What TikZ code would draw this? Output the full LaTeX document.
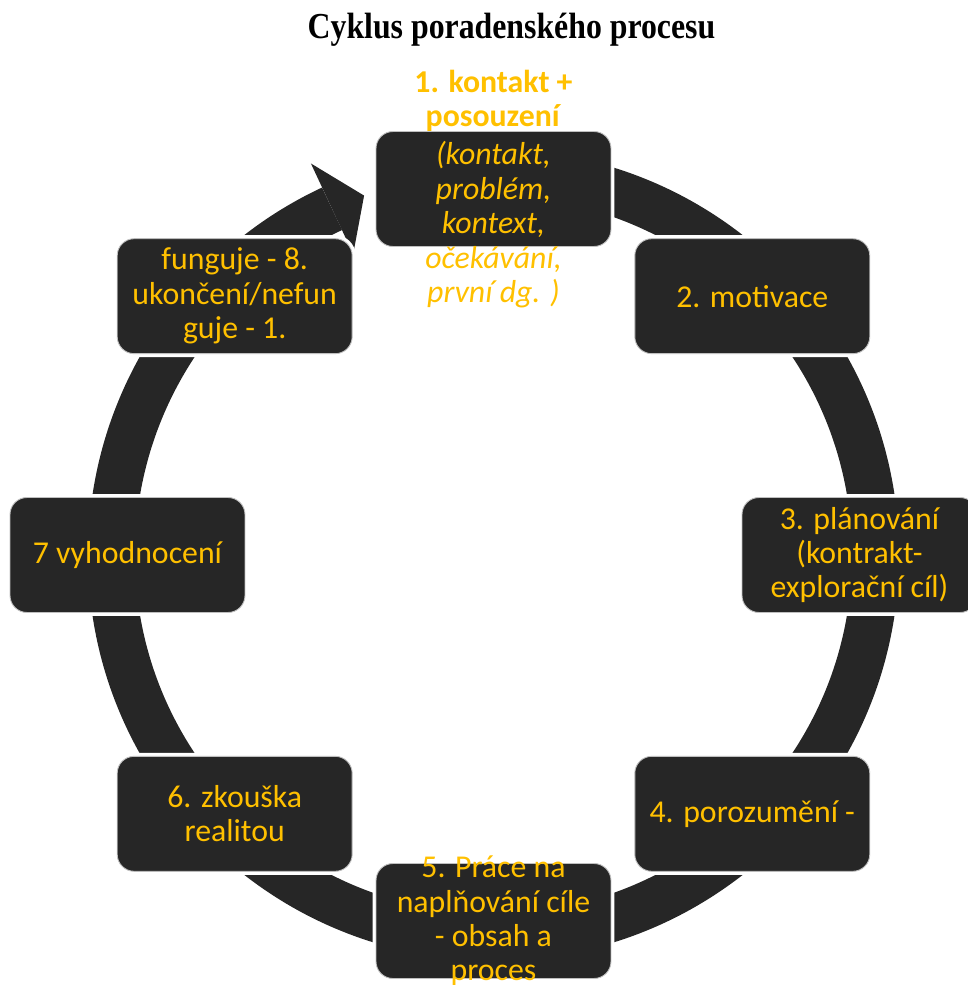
\documentclass[tikz,border=0pt]{standalone}
\usepackage{fontspec}
\setmainfont{Carlito}
\newfontfamily\titlefont{Liberation Serif}
\usepackage{tikz}
\usetikzlibrary{calc}
\definecolor{dark}{HTML}{262626}
\definecolor{amber}{HTML}{FFC000}
\definecolor{edge}{HTML}{BFBFBF}
\tikzset{
  ring/.style={draw=dark, line width=0.94cm},
  head/.style={fill=dark},
  box/.style={rectangle, rounded corners=0.34cm, fill=dark, draw=edge, line width=0.5pt,
    minimum width=4.7cm, minimum height=2.3cm, inner sep=0pt,
    preaction={draw=white, line width=0.14cm}},
  lab/.style={text=amber, align=center, font=\fontsize{18.1pt}{19.6pt}\selectfont},
  ttl/.style={font=\titlefont\bfseries\fontsize{18.1pt}{20pt}\selectfont},
}

\begin{document}
\begin{tikzpicture}[x=0.02cm, y=0.02cm]
  \def\r{382}
  \useasboundingbox (-493.5,-430) rectangle (474.5,555);
  \clip (-493.5,-430) rectangle (474.5,555);
  \node[ttl] (title) at (18,525) {\scalebox{1}[1.15]{Cyklus poradenského procesu}};
  % ring with the arrow into step 1
  \draw[ring] (90:\r) arc[start angle=90, end angle=-245, radius=\r];
  \fill[head] (115:432) -- (109.8:\r) -- (115:332) -- cycle;
  \foreach \n/\a/\t in {
    1/90/{\textbf{1. kontakt +}\\\textbf{posouzení}\\[2pt]\textit{(kontakt,}\\\textit{problém,}\\\textit{kontext,}\\\textit{očekávání,}\\\textit{první dg. )}},
    2/45/{2. motivace},
    3/0/{3. plánování\\(kontrakt-\\explorační cíl)},
    4/-45/{4. porozumění -},
    5/-90/{5. Práce na\\naplňování cíle\\- obsah a\\proces},
    6/-135/{6. zkouška\\realitou},
    7/180/{7 vyhodnocení},
    8/135/{funguje - 8.\\ukončení/nefun\\guje - 1.}}
  {
    \node[box] (b\n) at (\a:366) {};
    \node[lab] (t\n) at (b\n) {\t};
  }
\end{tikzpicture}
\end{document}
